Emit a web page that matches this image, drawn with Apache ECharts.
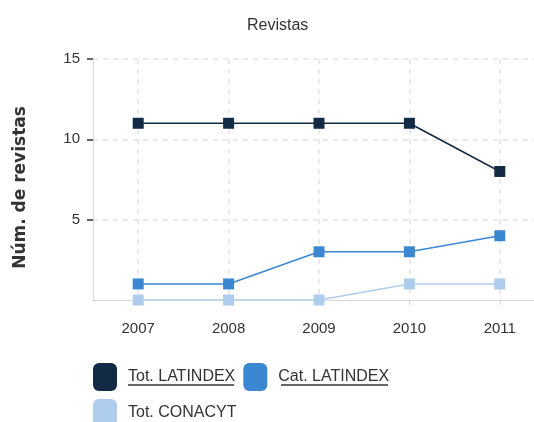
<!DOCTYPE html>
<html>
<head>
<meta charset="utf-8">
<script src="https://cdn.jsdelivr.net/npm/echarts@6/dist/echarts.min.js"></script>
<style>
  html, body { margin: 0; padding: 0; background: #fff; }
  #chart { width: 534px; height: 422px; }
</style>
</head>
<body>
<div id="chart"></div>
<script>
const years = ["2007", "2008", "2009", "2010", "2011"];
const totLatindex = [11, 11, 11, 11, 8];
const catLatindex = [1, 1, 3, 3, 4];
const totConacyt = [0, 0, 0, 1, 1];
const seriesNames = ["Tot. LATINDEX", "Cat. LATINDEX", "Tot. CONACYT"];
const yTicks = [5, 10, 15];
const COLORS = ["#132a44", "#3b87d1", "#aecdec"];
const FONT = "Liberation Sans, Arial, sans-serif";

const chart = echarts.init(document.getElementById("chart"), null, { renderer: "canvas" });

function lineSeries(name, data, color) {
  return {
    name,
    type: "line",
    data,
    symbol: "rect",
    symbolSize: 11,
    color,
    lineStyle: { width: 1.5, color },
    itemStyle: { color },
    animation: false,
  };
}

chart.setOption({
  backgroundColor: "#fff",
  title: {
    text: "Revistas",
    left: 242,
    top: 13,
    textStyle: { fontFamily: FONT, fontSize: 16, fontWeight: "normal", color: "#333" },
  },
  legend: {
    left: 93,
    top: 363,
    width: 320,
    padding: 0,
    itemWidth: 24,
    itemHeight: 28,
    itemGap: 8,
    icon: "roundRect",
    data: seriesNames,
    textStyle: { fontFamily: FONT, fontSize: 16, color: "#333", padding: [0, 4, 0, 6] },
  },
  grid: { left: 93, top: 59, width: 452, bottom: 122, outerBoundsMode: "none" },
  xAxis: {
    type: "category",
    data: years,
    boundaryGap: true,
    axisLine: { lineStyle: { color: "#d6d6d6", width: 1 } },
    axisTick: { show: true, alignWithLabel: true, length: 5, lineStyle: { color: "#d6d6d6" } },
    axisLabel: { fontFamily: FONT, fontSize: 15, color: "#333", margin: 21 },
    splitLine: { show: true, alignWithLabel: true, lineStyle: { color: "#e3e3e3", type: [5, 5], width: 1.5 } },
  },
  yAxis: {
    type: "value",
    min: 0,
    max: 15,
    interval: 5,
    name: "Núm. de revistas",
    nameLocation: "middle",
    nameGap: 64,
    nameTextStyle: {
      fontFamily: "DejaVu Sans, sans-serif",
      fontSize: 17,
      fontWeight: "bold",
      color: "#333",
      padding: [0, 16, 0, 0],
    },
    axisLine: { show: true, lineStyle: { color: "#d6d6d6", width: 1 } },
    axisTick: { show: true, length: 6, customValues: yTicks, lineStyle: { color: "#333", width: 1.5 } },
    axisLabel: { fontFamily: FONT, fontSize: 15, color: "#333", margin: 13, customValues: yTicks },
    splitLine: { show: true, lineStyle: { color: "#e3e3e3", type: [5, 5], width: 1.5 } },
  },
  graphic: [
    { type: "line", shape: { x1: 128, y1: 385, x2: 234, y2: 385 }, style: { stroke: "#333", lineWidth: 1.5 } },
    { type: "line", shape: { x1: 281, y1: 385, x2: 388, y2: 385 }, style: { stroke: "#333", lineWidth: 1.5 } },
  ],
  series: [
    lineSeries(seriesNames[0], totLatindex, COLORS[0]),
    lineSeries(seriesNames[1], catLatindex, COLORS[1]),
    lineSeries(seriesNames[2], totConacyt, COLORS[2]),
  ],
});
</script>
</body>
</html>
